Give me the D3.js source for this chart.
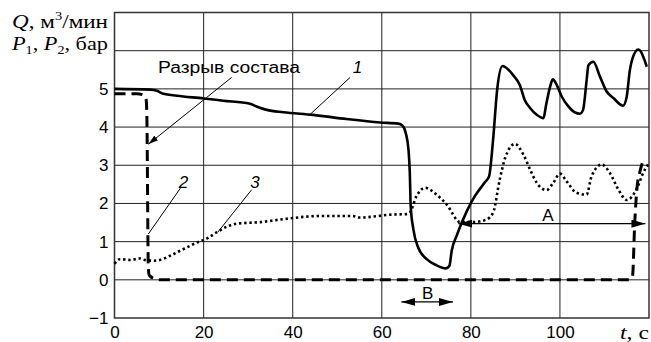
<!DOCTYPE html>
<html>
<head>
<meta charset="utf-8">
<script src="https://cdn.jsdelivr.net/npm/d3@7/dist/d3.min.js"></script>
<style>
  body { margin: 0; background: #fff; }
  svg text { fill: #000; }
</style>
</head>
<body>
<svg></svg>
<script>
let width = 651,
  height = 342,
  plotLeft = 114.5,
  plotRight = 649,
  plotTop = 12.5,
  plotBottom = 318;

// curve 1 - Q (solid)
let t1 = [0, 8, 9.5, 11, 14, 20, 24.4, 30.4, 31.9, 34.2, 37.9, 44.6, 52.1, 59.6, 63.7, 64.7, 65.4, 66, 66.3, 66.5, 67.1, 68.2, 70.1, 72.3, 74.4, 75.2, 75.7, 76.8, 79.1, 80.9, 83.2, 84.1, 85, 85.9, 87.1, 89.5, 91, 92.1, 93.3, 94.8, 96.3, 96.9, 97.8, 98.4, 99.3, 100.4, 101.9, 103.4, 104.5, 105.2, 106, 106.4, 107.5, 109, 110.5, 112, 114.2, 115, 115.7, 116.3, 117.6, 119.5];
let v1 = [5.0, 4.98, 4.95, 4.87, 4.82, 4.75, 4.69, 4.61, 4.54, 4.45, 4.39, 4.32, 4.21, 4.12, 4.09, 4.03, 3.84, 3.41, 2.8, 1.93, 1.32, 0.84, 0.54, 0.38, 0.30, 0.37, 0.76, 1.15, 1.8, 2.19, 2.56, 2.71, 3.67, 4.97, 5.6, 5.36, 5.1, 4.71, 4.5, 4.32, 4.23, 4.58, 5.06, 5.25, 5.1, 4.8, 4.54, 4.38, 4.35, 4.45, 5.23, 5.62, 5.71, 5.32, 4.93, 4.76, 4.56, 4.8, 5.49, 5.8, 6.03, 5.58];

// curve 2 - P1 (dashed)
let t2 = [0, 5, 6.5, 7.1, 7.25, 7.6, 7.8, 9, 10.2, 115.5, 116.3, 116.8, 117.3, 118, 119];
let v2 = [4.87, 4.87, 4.84, 4.72, 4.4, 0.3, 0.12, 0.03, 0, 0, 0.1, 1.5, 2.4, 2.85, 3.2];

// curve 3 - P2 (dotted)
let t3 = [0, 1.2, 3.5, 5.7, 6.8, 8.7, 10.2, 12.5, 15.4, 18.4, 20.7, 22.9, 25.2, 27.4, 32.7, 38.7, 46, 53.5, 55, 62.6, 65.5, 66.3, 67.8, 69.7, 72.3, 74.6, 77.6, 80.5, 83.5, 85, 86.5, 87.7, 89.9, 91.8, 93.3, 94.8, 97, 98.5, 100, 101.5, 103.7, 106, 107.1, 109.4, 111.2, 113.1, 115, 117.2, 118.7, 119.8];
let v3 = [0.42, 0.54, 0.52, 0.56, 0.52, 0.5, 0.52, 0.63, 0.8, 0.97, 1.08, 1.24, 1.39, 1.47, 1.51, 1.6, 1.67, 1.67, 1.63, 1.71, 1.72, 1.76, 2.19, 2.41, 2.23, 1.97, 1.51, 1.51, 1.58, 1.76, 2.63, 3.19, 3.56, 3.28, 2.89, 2.54, 2.35, 2.54, 2.78, 2.58, 2.28, 2.23, 2.71, 3.02, 2.8, 2.37, 2.09, 2.37, 2.8, 3.02];

let xTicks = [0, 20, 40, 60, 80, 100];
let yTicks = [-1, 0, 1, 2, 3, 4, 5];
let xGrid = [20, 40, 60, 80, 100];
let yGrid = [0, 1, 2, 3, 4, 5, 6];

let svg = d3.select("svg")
  .attr("width", width)
  .attr("height", height);

let xScale = d3.scaleLinear().domain([0, 120]).range([plotLeft, plotRight]);
let yScale = d3.scaleLinear().domain([-1, 7]).range([plotBottom, plotTop]);

let defs = svg.append("defs");
defs.append("marker")
  .attr("id", "arr")
  .attr("viewBox", "0 0 10 6")
  .attr("refX", 10).attr("refY", 3)
  .attr("markerWidth", 10).attr("markerHeight", 6)
  .attr("markerUnits", "userSpaceOnUse")
  .attr("orient", "auto-start-reverse")
  .append("path")
  .attr("d", "M0,0L10,3L0,6Z")
  .attr("fill", "#000");
defs.append("marker")
  .attr("id", "arrBig")
  .attr("viewBox", "0 0 14 8")
  .attr("refX", 14).attr("refY", 4)
  .attr("markerWidth", 14).attr("markerHeight", 8)
  .attr("markerUnits", "userSpaceOnUse")
  .attr("orient", "auto-start-reverse")
  .append("path")
  .attr("d", "M0,0L14,4L0,8Z")
  .attr("fill", "#000");

// grid
svg.append("g")
  .selectAll("line")
  .data(xGrid)
  .enter()
  .append("line")
  .attr("x1", d => xScale(d)).attr("x2", d => xScale(d))
  .attr("y1", plotTop).attr("y2", plotBottom)
  .attr("stroke", "#444")
  .attr("stroke-width", 1.2);

svg.append("g")
  .selectAll("line")
  .data(yGrid)
  .enter()
  .append("line")
  .attr("x1", plotLeft).attr("x2", plotRight)
  .attr("y1", d => yScale(d)).attr("y2", d => yScale(d))
  .attr("stroke", "#222")
  .attr("stroke-width", 1);

svg.append("rect")
  .attr("x", plotLeft).attr("y", plotTop)
  .attr("width", plotRight - plotLeft).attr("height", plotBottom - plotTop)
  .attr("fill", "none")
  .attr("stroke", "#333")
  .attr("stroke-width", 1.5);

// axes labels (no tick marks)
let xAxis = d3.axisBottom(xScale).tickValues(xTicks).tickSize(0).tickPadding(8);
let yAxis = d3.axisLeft(yScale).tickValues(yTicks).tickSize(0).tickPadding(6)
  .tickFormat(d => d < 0 ? "\u2212" + Math.abs(d) : d);

let gx = svg.append("g")
  .attr("transform", `translate(0, ${plotBottom})`)
  .call(xAxis);
let gy = svg.append("g")
  .attr("transform", `translate(${plotLeft}, 0)`)
  .call(yAxis);
[gx, gy].forEach(g => {
  g.select(".domain").remove();
  g.selectAll("text")
    .attr("font-family", "Liberation Sans, Arial, sans-serif")
    .attr("font-size", 17)
    .attr("fill", "#000");
});

// curves
let line = d3.line()
  .x(d => xScale(d[0]))
  .y(d => yScale(d[1]))
  .curve(d3.curveMonotoneX);

svg.append("path")
  .datum(d3.zip(t3, v3))
  .attr("d", line)
  .attr("fill", "none")
  .attr("stroke", "#000")
  .attr("stroke-width", 2.6)
  .attr("stroke-dasharray", "2.4,2.8");

svg.append("path")
  .datum(d3.zip(t2, v2))
  .attr("d", line)
  .attr("fill", "none")
  .attr("stroke", "#000")
  .attr("stroke-width", 3)
  .attr("stroke-dasharray", "11,6");

svg.append("path")
  .datum(d3.zip(t1, v1))
  .attr("d", line)
  .attr("fill", "none")
  .attr("stroke", "#000")
  .attr("stroke-width", 2.6)
  .attr("stroke-linejoin", "round");

// annotations
let sans = "Liberation Sans, Arial, sans-serif";
let serif = "Liberation Serif, Times New Roman, serif";

function leader(x1, y1, x2, y2, marker) {
  let l = svg.append("line")
    .attr("x1", xScale(x1)).attr("y1", yScale(y1))
    .attr("x2", xScale(x2)).attr("y2", yScale(y2))
    .attr("stroke", "#000")
    .attr("stroke-width", 1);
  if (marker) l.attr("marker-end", "url(#arr)");
  return l;
}

svg.append("text")
  .attr("x", 158).attr("y", yScale(5.5) + 3)
  .attr("font-family", sans).attr("font-size", 16)
  .attr("textLength", 142).attr("lengthAdjust", "spacingAndGlyphs")
  .text("Разрыв состава");
leader(26.3, 5.3, 7.6, 3.55, true);

svg.append("text")
  .attr("x", xScale(53.5)).attr("y", yScale(5.5) + 3)
  .attr("font-family", sans).attr("font-size", 17).attr("font-style", "italic")
  .text("1");
leader(52.9, 5.3, 43.9, 4.33, false);

svg.append("text")
  .attr("x", xScale(14.4)).attr("y", yScale(2.45) + 2)
  .attr("font-family", sans).attr("font-size", 17).attr("font-style", "italic")
  .text("2");
leader(14.8, 2.4, 7.6, 1.2, false);

svg.append("text")
  .attr("x", xScale(30.5)).attr("y", yScale(2.45) + 2)
  .attr("font-family", sans).attr("font-size", 17).attr("font-style", "italic")
  .text("3");
leader(30.8, 2.36, 23.2, 1.25, false);

// A arrow
svg.append("line")
  .attr("x1", xScale(77.2)).attr("x2", xScale(119.2))
  .attr("y1", yScale(1.47)).attr("y2", yScale(1.47))
  .attr("stroke", "#000").attr("stroke-width", 1.3)
  .attr("marker-start", "url(#arrBig)")
  .attr("marker-end", "url(#arrBig)");
svg.append("text")
  .attr("x", xScale(97.3)).attr("y", yScale(1.47) - 3)
  .attr("text-anchor", "middle")
  .attr("font-family", sans).attr("font-size", 17)
  .text("A");

// B arrow
svg.append("line")
  .attr("x1", xScale(64.4)).attr("x2", xScale(76))
  .attr("y1", yScale(-0.58)).attr("y2", yScale(-0.58))
  .attr("stroke", "#000").attr("stroke-width", 1.3)
  .attr("marker-start", "url(#arrBig)")
  .attr("marker-end", "url(#arrBig)");
svg.append("text")
  .attr("x", xScale(70.3)).attr("y", yScale(-0.58) - 3)
  .attr("text-anchor", "middle")
  .attr("font-family", sans).attr("font-size", 17)
  .text("B");

// axis titles
let yt1 = svg.append("text")
  .attr("x", 12).attr("y", 28)
  .attr("font-family", serif).attr("font-size", 19)
  .attr("textLength", 96).attr("lengthAdjust", "spacingAndGlyphs");
yt1.append("tspan").attr("font-style", "italic").text("Q");
yt1.append("tspan").text(", м");
yt1.append("tspan").attr("font-size", 12).attr("dy", -8).text("3");
yt1.append("tspan").attr("dy", 8).text("/мин");

let yt2 = svg.append("text")
  .attr("x", 12).attr("y", 50)
  .attr("font-family", serif).attr("font-size", 19)
  .attr("textLength", 96).attr("lengthAdjust", "spacingAndGlyphs");
yt2.append("tspan").attr("font-style", "italic").text("P");
yt2.append("tspan").attr("font-size", 12).attr("dy", 4).text("1");
yt2.append("tspan").attr("dy", -4).text(", ");
yt2.append("tspan").attr("font-style", "italic").text("P");
yt2.append("tspan").attr("font-size", 12).attr("dy", 4).text("2");
yt2.append("tspan").attr("dy", -4).text(", бар");

let xt = svg.append("text")
  .attr("x", 620).attr("y", 339)
  .attr("font-family", serif).attr("font-size", 19)
  .attr("textLength", 29).attr("lengthAdjust", "spacingAndGlyphs");
xt.append("tspan").attr("font-style", "italic").text("t");
xt.append("tspan").text(", c");
</script>
</body>
</html>
